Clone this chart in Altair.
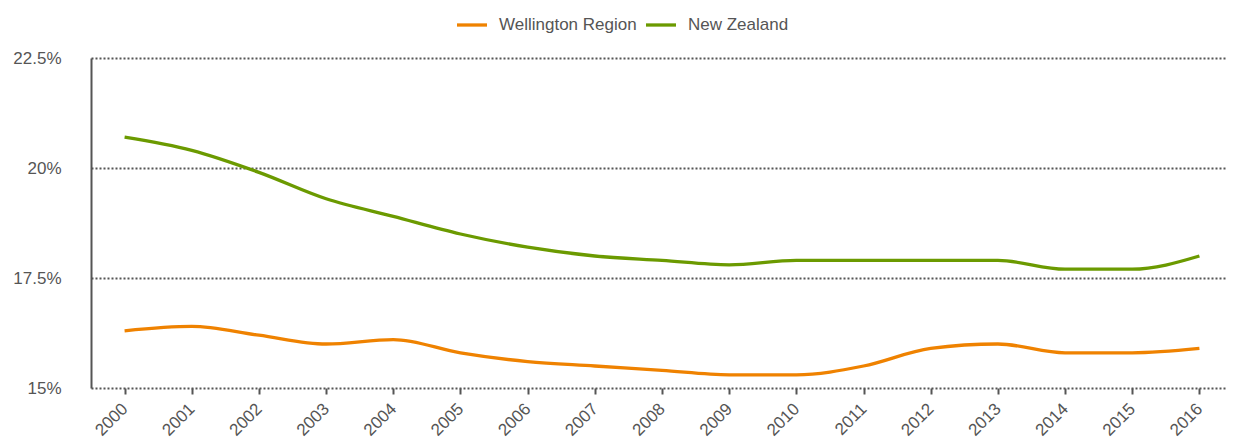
import altair as alt
import pandas as pd

years = [str(y) for y in range(2000, 2017)]
wellington = [16.3, 16.4, 16.2, 16.0, 16.1, 15.8, 15.6, 15.5, 15.4, 15.3, 15.3, 15.5, 15.9, 16.0, 15.8, 15.8, 15.9]
new_zealand = [20.7, 20.4, 19.9, 19.3, 18.9, 18.5, 18.2, 18.0, 17.9, 17.8, 17.9, 17.9, 17.9, 17.9, 17.7, 17.7, 18.0]
series_names = ["Wellington Region", "New Zealand"]
series_colors = ["#EF8200", "#6B9A00"]
y_ticks = [15, 17.5, 20, 22.5]

rows = []
for name, vals in zip(series_names, [wellington, new_zealand]):
    for yr, v in zip(years, vals):
        rows.append({"Year": yr, "Value": v, "Series": name})
df = pd.DataFrame(rows)

FONT = "Liberation Sans"
TXT = "#555555"

chart = alt.Chart(df).mark_line(strokeWidth=3.3, interpolate="monotone").encode(
    x=alt.X("Year:O", title=None,
            scale=alt.Scale(type="point", padding=0.5, range=[0, 1142]),
            axis=alt.Axis(labelAngle=-45, labelAlign="right", labelBaseline="middle",
                          labelPadding=12, tickSize=6, tickColor=TXT, tickWidth=2,
                          domain=False, grid=False, labelFontSize=17, labelColor=TXT,
                          labelFont=FONT)),
    y=alt.Y("Value:Q", title=None,
            scale=alt.Scale(domain=[15, 22.5], nice=False, zero=False),
            axis=alt.Axis(values=y_ticks, labelExpr="datum.value + '%'", tickSize=0,
                          labelPadding=30, domain=True, domainColor=TXT, domainWidth=2,
                          grid=True, gridColor="#555555", gridDash=[2, 2], gridWidth=1.8,
                          labelFontSize=17, labelColor=TXT, labelFont=FONT)),
    color=alt.Color("Series:N", title=None,
                    scale=alt.Scale(domain=series_names, range=series_colors),
                    legend=alt.Legend(orient="none", legendX=364, legendY=-50, direction="horizontal",
                                      symbolType="stroke", symbolSize=900, symbolStrokeWidth=3.3,
                                      labelFontSize=17, labelColor=TXT, labelFont=FONT,
                                      labelOffset=10, columnPadding=2, padding=0)),
).properties(
    width=1136, height=330,
    autosize=alt.AutoSizeParams(type="none"),
    padding={"left": 83, "top": 50, "right": 0, "bottom": 52},
).configure_view(stroke=None)

chart.save("out.html", embed_options={"renderer": "svg", "actions": False})
